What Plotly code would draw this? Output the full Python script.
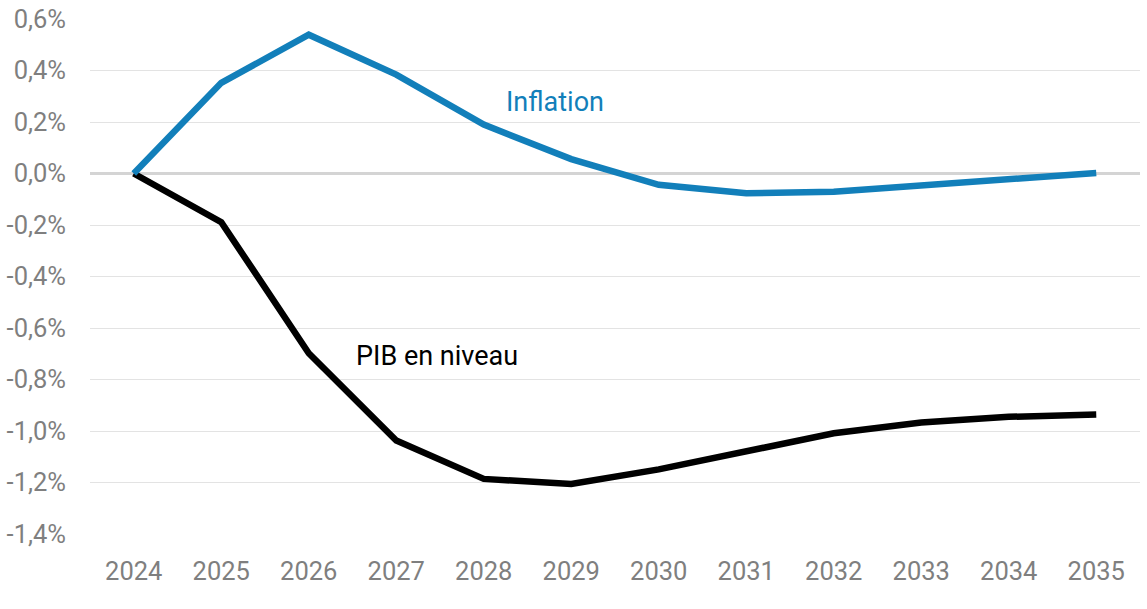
import plotly.graph_objects as go

years = [str(y) for y in range(2024, 2036)]
inflation = [0.0, 0.352, 0.539, 0.384, 0.190, 0.056, -0.044, -0.077, -0.071, -0.046, -0.021, 0.002]
pib = [0.0, -0.189, -0.698, -1.037, -1.186, -1.206, -1.149, -1.079, -1.009, -0.967, -0.945, -0.936]
y_ticks = [0.6, 0.4, 0.2, 0.0, -0.2, -0.4, -0.6, -0.8, -1.0, -1.2, -1.4]
y_tick_labels = ["0,6%", "0,4%", "0,2%", "0,0%", "-0,2%", "-0,4%", "-0,6%", "-0,8%", "-1,0%", "-1,2%", "-1,4%"]

BLUE = "#127fba"
FONT = "Roboto"
TICK_SIZE = 25.5

fig = go.Figure()
fig.add_trace(go.Scatter(x=years, y=pib, mode="lines", name="PIB en niveau",
                         line=dict(color="#000000", width=6.5), showlegend=False))
fig.add_trace(go.Scatter(x=years, y=inflation, mode="lines", name="Inflation",
                         line=dict(color=BLUE, width=6.5), showlegend=False))

fig.add_annotation(x=4.81, y=0.279, text="Inflation", showarrow=False,
                   font=dict(family=FONT, size=27, color=BLUE))
fig.add_annotation(x=3.47, y=-0.709, text="PIB en niveau", showarrow=False,
                   font=dict(family=FONT, size=27, color="#000000"))

fig.update_layout(
    width=1147, height=609,
    margin=dict(l=90, r=7, t=19, b=75),
    paper_bgcolor="white", plot_bgcolor="white",
    font=dict(family=FONT, size=TICK_SIZE, color="#7f7f7f"),
)
fig.update_xaxes(type="category", range=[-0.5, 11.5], showgrid=False, zeroline=False,
                 showline=False, ticks="", ticklabelstandoff=19, automargin=False,
                 tickfont=dict(family=FONT, size=TICK_SIZE, color="#7f7f7f"))
fig.update_yaxes(range=[-1.4, 0.6], tickvals=y_ticks, ticktext=y_tick_labels,
                 showgrid=True, gridcolor="#e3e3e3", gridwidth=1,
                 zeroline=True, zerolinecolor="#d4d4d4", zerolinewidth=3,
                 showline=False, ticks="", ticklabelstandoff=23, automargin=False,
                 tickfont=dict(family=FONT, size=TICK_SIZE, color="#7f7f7f"))

fig.write_html("out.html")
